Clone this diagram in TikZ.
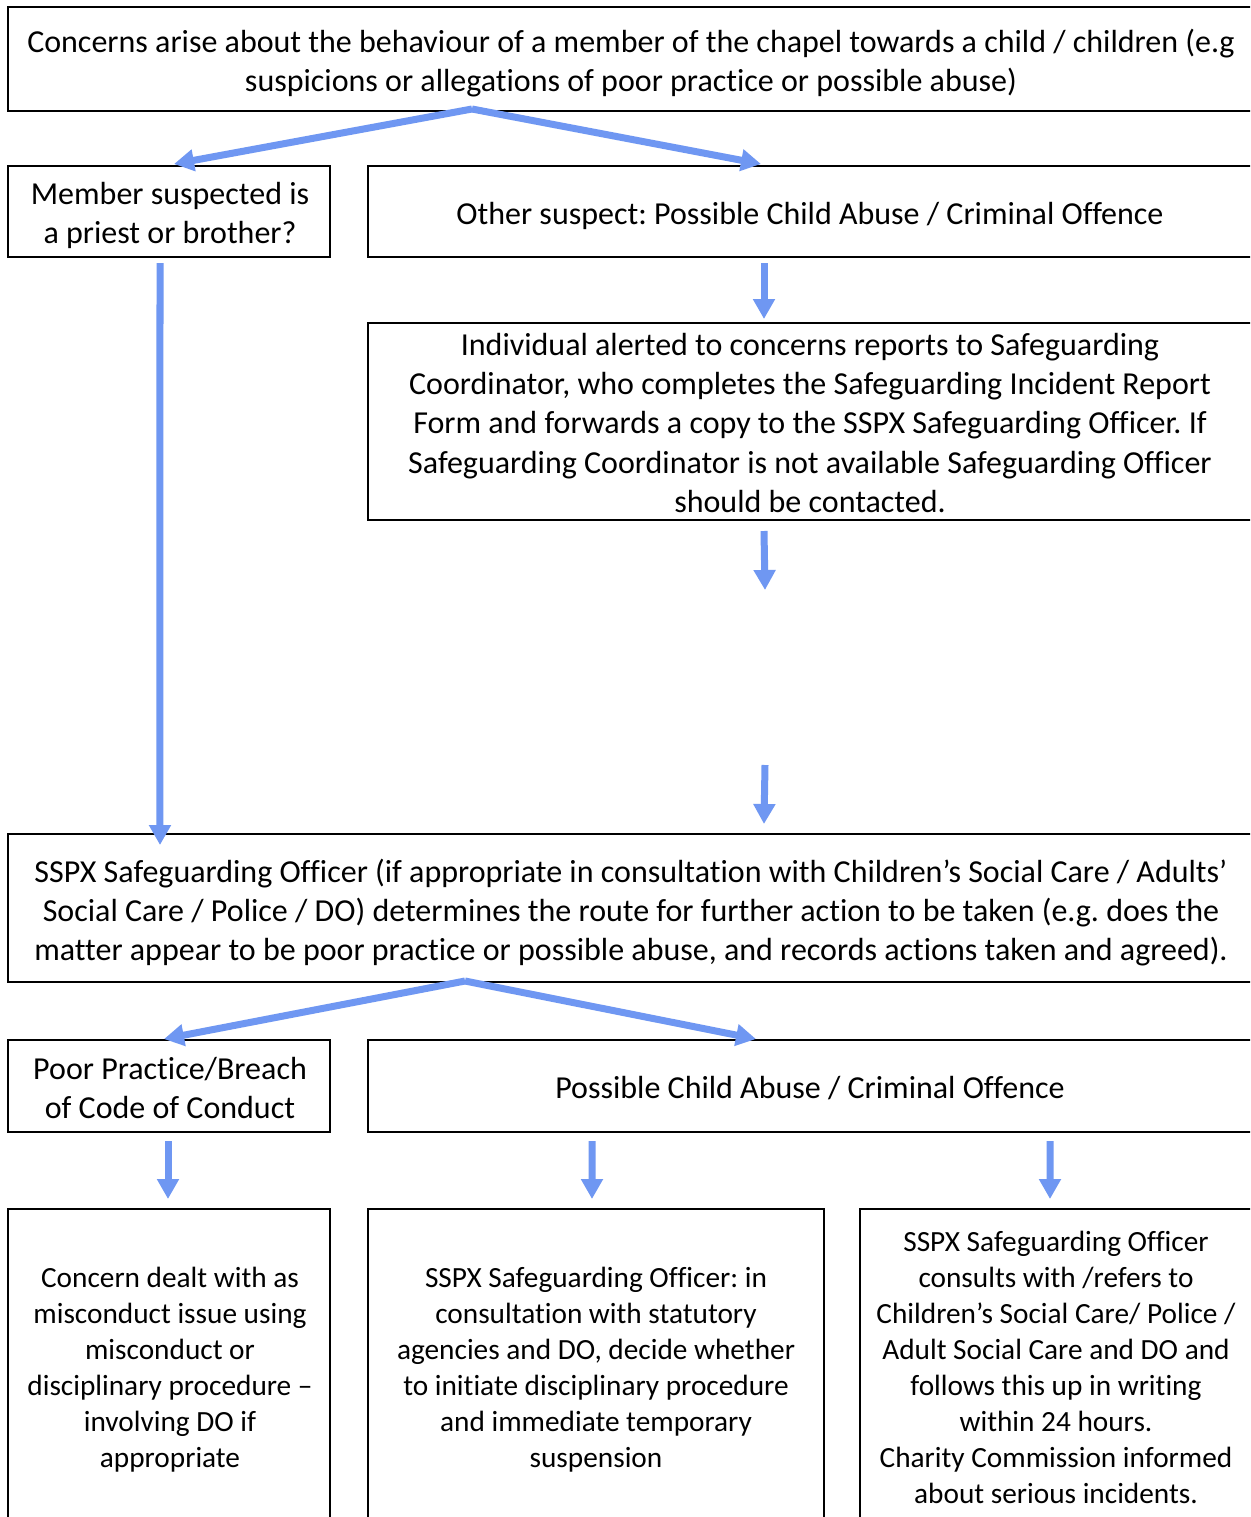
\documentclass[tikz,border=0pt]{standalone}
\usepackage{fontspec}
\setmainfont[Ligatures={NoCommon,TeX}]{Carlito}
\frenchspacing
\usetikzlibrary{arrows.meta,calc}
\definecolor{arrowblue}{RGB}{111,151,242}
\tikzset{
  box/.style={draw=black, line width=2bp, inner sep=0pt, anchor=center},
  txt/.style={inner sep=0pt, align=center, anchor=center},
  big/.style={font=\fontsize{32bp}{39.2bp}\selectfont},
  small/.style={font=\fontsize{29.3bp}{36bp}\selectfont},
  arr/.style={draw=arrowblue, line width=7bp, -{Triangle[width=21bp,length=20bp]}}
}
\begin{document}
\begin{tikzpicture}[x=1bp,y=-1bp]
\clip (0,0) rectangle (1250,1517);
\fill[white] (0,0) rectangle (1250,1517);

% boxes
\node[box,minimum width=1244bp,minimum height=104bp] (top) at (630,59) {};
\node[box,minimum width=322bp,minimum height=91bp] (priest) at (169,211.5) {};
\node[box,minimum width=884bp,minimum height=91bp] (other) at (810,211.5) {};
\node[box,minimum width=884bp,minimum height=197bp] (indiv) at (810,421.5) {};
\node[box,minimum width=1244bp,minimum height=148bp] (sspx) at (630,908) {};
\node[box,minimum width=322bp,minimum height=92bp] (poor) at (169,1086) {};
\node[box,minimum width=884bp,minimum height=92bp] (abuse) at (810,1086) {};
\node[box,minimum width=322bp,minimum height=315bp] (b1) at (169,1366.5) {};
\node[box,minimum width=456bp,minimum height=315bp] (b2) at (596,1366.5) {};
\node[box,minimum width=392bp,minimum height=315bp] (b3) at (1056,1366.5) {};

% texts
\node[txt,big] (topT) at ($(top)+(1,4)$)
  {Concerns arise about the behaviour of a member of the chapel towards a child / children (e.g\\suspicions or allegations of poor practice or possible abuse)};
\node[txt,big] (priestT) at ($(priest)+(1,4)$)
  {Member suspected is\\a priest or brother?};
\node[txt,big] (otherT) at ($(other)+(0,4)$)
  {Other suspect: Possible Child Abuse / Criminal Offence};
\node[txt,big] (indivT) at ($(indiv)+(0,1.5)$)
  {Individual alerted to concerns reports to Safeguarding\\Coordinator, who completes the Safeguarding Incident Report\\Form and forwards a copy to the SSPX Safeguarding Officer. If\\Safeguarding Coordinator is not available Safeguarding Officer\\should be contacted.};
\node[txt,big] (sspxT) at ($(sspx)+(1,4.5)$)
  {SSPX Safeguarding Officer (if appropriate in consultation with Children’s Social Care / Adults’\\Social Care / Police / DO) determines the route for further action to be taken (e.g. does the\\matter appear to be poor practice or possible abuse, and records actions taken and agreed).};
\node[txt,big] (poorT) at ($(poor)+(1,2)$)
  {Poor Practice/Breach\\of Code of Conduct};
\node[txt,big] (abuseT) at ($(abuse)+(0,2)$)
  {Possible Child Abuse / Criminal Offence};
\node[txt,small] (b1T) at ($(b1)+(1,3)$)
  {Concern dealt with as\\misconduct issue using\\misconduct or\\disciplinary procedure –\\involving DO if\\appropriate};
\node[txt,small] (b2T) at ($(b2)+(0,3)$)
  {SSPX Safeguarding Officer: in\\consultation with statutory\\agencies and DO, decide whether\\to initiate disciplinary procedure\\and immediate temporary\\suspension};
\node[txt,small] (b3T) at ($(b3)+(0,1)$)
  {SSPX Safeguarding Officer\\consults with /refers to\\Children’s Social Care/ Police /\\Adult Social Care and DO and\\follows this up in writing\\within 24 hours.\\Charity Commission informed\\about serious incidents.};

% connectors
\coordinate (apex1) at ($(top.south west)+(465,-3)$);
\draw[arr] (apex1) -- ($(priest.north west)+(167,-1)$);
\draw[arr] (apex1) -- ($(other.north west)+(394,-1)$);
\draw[arr] ($(other.south west)+(397,5)$) -- ($(indiv.north west)+(397,-3)$);
\coordinate (gapA) at (765,590);
\coordinate (gapB) at (765,765);
\draw[arr] ($(indiv.south west)+(397,10)$) -- (gapA);
\draw[arr] (gapB) -- ($(sspx.north west)+(757,-9)$);
\draw[arr] ($(priest.south west)+(153,5)$) -- ($(sspx.north west)+(153,12)$);
\coordinate (apex2) at ($(sspx.south west)+(458,-2)$);
\draw[arr] (apex2) -- ($(poor.north west)+(157,0)$);
\draw[arr] (apex2) -- ($(abuse.north west)+(389,0)$);
\draw[arr] ($(poor.south west)+(161,8)$) -- ($(b1.north west)+(161,-9)$);
\draw[arr] ($(abuse.south west)+(225,8)$) -- ($(b2.north west)+(225,-9)$);
\draw[arr] ($(abuse.south west)+(683,8)$) -- ($(b3.north west)+(191,-9)$);
\end{tikzpicture}
\end{document}
